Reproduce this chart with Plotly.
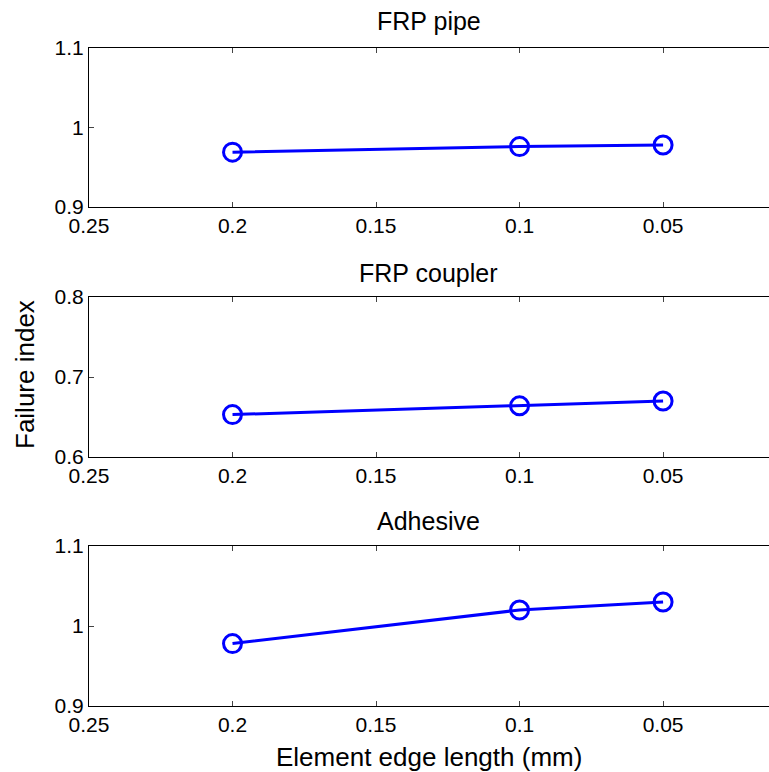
import plotly.graph_objects as go

edge_length = [0.2, 0.1, 0.05]
frp_pipe = [0.969, 0.976, 0.978]
frp_coupler = [0.653, 0.664, 0.670]
adhesive = [0.978, 1.020, 1.030]

titles = ["FRP pipe", "FRP coupler", "Adhesive"]
series = [frp_pipe, frp_coupler, adhesive]
y_ranges = [[0.9, 1.1], [0.6, 0.8], [0.9, 1.1]]
y_ticks = [[0.9, 1.0, 1.1], [0.6, 0.7, 0.8], [0.9, 1.0, 1.1]]
y_ticktext = [["0.9", "1", "1.1"], ["0.6", "0.7", "0.8"], ["0.9", "1", "1.1"]]
x_ticks = [0.25, 0.2, 0.15, 0.1, 0.05]
x_ticktext = ["0.25", "0.2", "0.15", "0.1", "0.05"]

W, H = 769, 772
left_px = 89
# pixel top/bottom of each panel
panels_px = [(48, 207), (297, 457), (546, 706)]
title_centers = [21, 273, 521]

FONT = "Liberation Sans, Arial, sans-serif"
TICK = 21
fig = go.Figure()
layout = dict(
    width=W, height=H,
    margin=dict(l=0, r=0, t=0, b=0, autoexpand=False),
    paper_bgcolor="white", plot_bgcolor="white",
    showlegend=False,
    font=dict(family=FONT, size=TICK, color="black"),
)
annotations = []
for i, (ys, t) in enumerate(zip(series, titles)):
    n = "" if i == 0 else str(i + 1)
    xa, ya = "x" + n, "y" + n
    fig.add_trace(go.Scatter(
        x=edge_length, y=ys, xaxis=xa, yaxis=ya, mode="lines+markers",
        line=dict(color="#0000ff", width=3),
        marker=dict(symbol="circle-open", size=18, color="#0000ff", line=dict(width=3, color="#0000ff")),
        cliponaxis=False,
    ))
    top, bot = panels_px[i]
    dom_y = [1 - bot / H, 1 - top / H]
    layout["xaxis" + n] = dict(
        domain=[left_px / W, 1], range=[0.25, 0.0131], anchor=ya, automargin=False,
        tickvals=x_ticks, ticktext=x_ticktext, ticks="inside", ticklen=5,
        showline=True, linecolor="black", linewidth=1.2, mirror="ticks",
        showgrid=False, zeroline=False, tickfont=dict(size=TICK, family=FONT),
    )
    layout["yaxis" + n] = dict(
        domain=dom_y, range=y_ranges[i], anchor=xa, automargin=False,
        tickvals=y_ticks[i], ticktext=y_ticktext[i], ticks="inside", ticklen=5,
        showline=True, linecolor="black", linewidth=1.2, mirror=False,
        showgrid=False, zeroline=False, tickfont=dict(size=TICK, family=FONT),
    )
    annotations.append(dict(
        text=t, xref="paper", yref="paper", x=(left_px + W) / 2 / W, y=1 - title_centers[i] / H,
        xanchor="center", yanchor="middle", showarrow=False, font=dict(size=25, family=FONT),
    ))

annotations.append(dict(
    text="Element edge length (mm)", xref="paper", yref="paper",
    x=(left_px + W) / 2 / W, y=1 - 757 / H, xanchor="center", yanchor="middle",
    showarrow=False, font=dict(size=26, family=FONT),
))
annotations.append(dict(
    text="Failure index", xref="paper", yref="paper",
    x=25 / W, y=1 - 375 / H, xanchor="center", yanchor="middle", textangle=-90,
    showarrow=False, font=dict(size=26, family=FONT),
))
layout["annotations"] = annotations
fig.update_layout(**layout)
fig.write_html("out.html")
